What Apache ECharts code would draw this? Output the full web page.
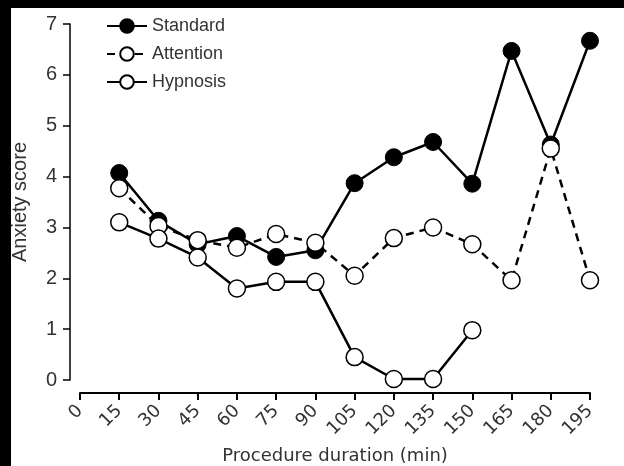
<!DOCTYPE html>
<html>
<head>
<meta charset="utf-8">
<script src="https://cdn.jsdelivr.net/npm/echarts@6/dist/echarts.min.js"></script>
<style>
    html, body { margin: 0; padding: 0; background: #000; width: 624px; height: 466px; overflow: hidden; }
    #chart { position: absolute; left: 11px; top: 8px; width: 613px; height: 458px; background: #fff; }
</style>
</head>
<body>
<div id="chart"></div>
<script>
// procedure duration (min)
var minutes = [15, 30, 45, 60, 75, 90, 105, 120, 135, 150, 165, 180, 195];
var standard = [4.07, 3.13, 2.67, 2.83, 2.42, 2.55, 3.87, 4.38, 4.68, 3.86, 6.47, 4.63, 6.67];
var attention = [3.77, 3.03, 2.75, 2.6, 2.87, 2.7, 2.05, 2.79, 3.0, 2.67, 1.96, 4.55, 1.96];
var hypnosis = [3.1, 2.78, 2.41, 1.8, 1.93, 1.93, 0.45, 0.02, 0.02, 0.98];
var legendNames = ['Standard', 'Attention', 'Hypnosis'];

function pairs(vals) {
    var out = [];
    for (var i = 0; i < vals.length; i++) {
        out.push([minutes[i], vals[i]]);
    }
    return out;
}

var txt = '#333';
var chart = echarts.init(document.getElementById('chart'));
chart.setOption({
    backgroundColor: '#fff',
    animation: false,
    // outerBoundsMode none: keep grid where it is even if the y name sits near the edge
    grid: { left: 69, right: 34, top: 16, bottom: 86, outerBoundsMode: 'none' },
    legend: {
        data: legendNames,
        orient: 'vertical',
        left: 95,
        top: 9,
        padding: 0,
        itemWidth: 40,
        itemHeight: 17,
        itemGap: 10,
        textStyle: { color: txt, fontSize: 18, fontFamily: 'Liberation Sans', lineHeight: 17 }
    },
    xAxis: {
        type: 'value',
        min: 0,
        max: 195,
        interval: 15,
        offset: 13,
        name: 'Procedure duration (min)',
        nameLocation: 'middle',
        nameGap: 54,
        nameTextStyle: { color: txt, fontSize: 18, fontFamily: 'DejaVu Sans' },
        axisLine: { onZero: false, lineStyle: { color: '#000', width: 2 } },
        axisTick: { length: 7, lineStyle: { color: '#000', width: 2 } },
        axisLabel: { rotate: 45, margin: 15, color: txt, fontSize: 18, fontFamily: 'DejaVu Sans' },
        splitLine: { show: false }
    },
    yAxis: {
        type: 'value',
        min: 0,
        max: 7,
        interval: 1,
        offset: 10,
        name: 'Anxiety score',
        nameLocation: 'middle',
        nameGap: 40,
        nameTextStyle: { color: txt, fontSize: 20, fontFamily: 'Liberation Sans' },
        axisLine: { show: true, onZero: false, lineStyle: { color: '#000', width: 1.5 } },
        axisTick: { show: true, length: 7, lineStyle: { color: '#000', width: 1.5 } },
        axisLabel: { margin: 13, color: txt, fontSize: 20, fontFamily: 'Liberation Sans' },
        splitLine: { show: false }
    },
    series: [
        {
            name: 'Attention',
            type: 'line',
            data: pairs(attention),
            symbol: 'circle',
            symbolSize: 17,
            z: 2,
            lineStyle: { color: '#000', width: 2.5, type: [8, 6] },
            itemStyle: { color: '#fff', borderColor: '#000', borderWidth: 1.5 }
        },
        {
            name: 'Hypnosis',
            type: 'line',
            data: pairs(hypnosis),
            symbol: 'circle',
            symbolSize: 17,
            z: 3,
            lineStyle: { color: '#000', width: 2.5 },
            itemStyle: { color: '#fff', borderColor: '#000', borderWidth: 1.5 }
        },
        {
            name: 'Standard',
            type: 'line',
            data: pairs(standard),
            symbol: 'circle',
            symbolSize: 17,
            z: 1,
            lineStyle: { color: '#000', width: 2.5 },
            itemStyle: { color: '#000', borderColor: '#000', borderWidth: 1 }
        }
    ]
});
</script>
</body>
</html>
